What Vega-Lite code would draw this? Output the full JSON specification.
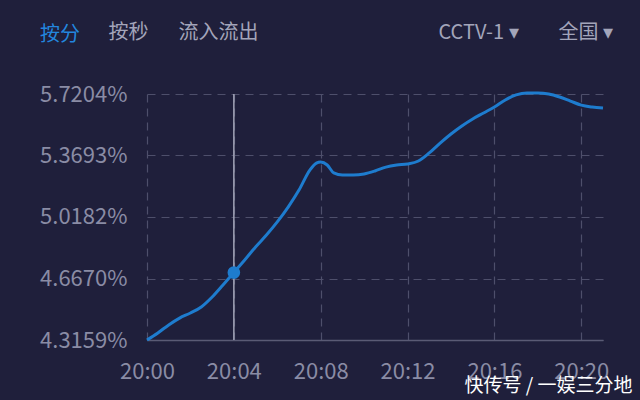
{
  "$schema": "https://vega.github.io/schema/vega-lite/v6.json",
  "width": 456,
  "height": 246,
  "autosize": {"type": "none"},
  "padding": {"left": 147, "top": 94, "right": 37, "bottom": 60},
  "background": "#1f1f3b",
  "config": {
    "view": {"stroke": null},
    "font": "Noto Sans CJK SC",
    "axis": {
      "labelFont": "Noto Sans CJK SC",
      "labelFontSize": 22,
      "labelColor": "#8a8ca5",
      "titleFont": "Noto Sans CJK SC",
      "titleFontSize": 20,
      "titleFontWeight": "normal",
      "titleColor": "#a3a5ba",
      "gridColor": "#4e4f6b",
      "gridDash": [8, 6],
      "gridWidth": 1.2,
      "ticks": false
    }
  },
  "title": {
    "text": "按分",
    "anchor": "start",
    "frame": "group",
    "dx": -107,
    "dy": 43,
    "offset": 0,
    "baseline": "bottom",
    "color": "#2386de",
    "fontSize": 20,
    "fontWeight": "normal",
    "font": "Noto Sans CJK SC"
  },
  "datasets": {
    "series": [
      {"t": "2024/01/01 20:00:00", "v": 4.3159},
      {"t": "2024/01/01 20:00:30", "v": 4.356},
      {"t": "2024/01/01 20:01:00", "v": 4.402},
      {"t": "2024/01/01 20:01:30", "v": 4.441},
      {"t": "2024/01/01 20:02:00", "v": 4.470},
      {"t": "2024/01/01 20:02:30", "v": 4.504},
      {"t": "2024/01/01 20:03:00", "v": 4.561},
      {"t": "2024/01/01 20:03:30", "v": 4.630},
      {"t": "2024/01/01 20:04:00", "v": 4.701},
      {"t": "2024/01/01 20:04:30", "v": 4.773},
      {"t": "2024/01/01 20:05:00", "v": 4.847},
      {"t": "2024/01/01 20:05:30", "v": 4.915},
      {"t": "2024/01/01 20:06:00", "v": 4.990},
      {"t": "2024/01/01 20:06:30", "v": 5.075},
      {"t": "2024/01/01 20:07:00", "v": 5.172},
      {"t": "2024/01/01 20:07:30", "v": 5.286},
      {"t": "2024/01/01 20:07:48", "v": 5.326},
      {"t": "2024/01/01 20:08:00", "v": 5.332},
      {"t": "2024/01/01 20:08:18", "v": 5.315},
      {"t": "2024/01/01 20:08:36", "v": 5.270},
      {"t": "2024/01/01 20:09:00", "v": 5.258},
      {"t": "2024/01/01 20:09:30", "v": 5.258},
      {"t": "2024/01/01 20:10:00", "v": 5.264},
      {"t": "2024/01/01 20:10:30", "v": 5.281},
      {"t": "2024/01/01 20:11:00", "v": 5.303},
      {"t": "2024/01/01 20:11:30", "v": 5.315},
      {"t": "2024/01/01 20:12:00", "v": 5.321},
      {"t": "2024/01/01 20:12:30", "v": 5.338},
      {"t": "2024/01/01 20:13:00", "v": 5.384},
      {"t": "2024/01/01 20:13:30", "v": 5.440},
      {"t": "2024/01/01 20:14:00", "v": 5.492},
      {"t": "2024/01/01 20:14:30", "v": 5.538},
      {"t": "2024/01/01 20:15:00", "v": 5.578},
      {"t": "2024/01/01 20:15:30", "v": 5.612},
      {"t": "2024/01/01 20:16:00", "v": 5.646},
      {"t": "2024/01/01 20:16:30", "v": 5.686},
      {"t": "2024/01/01 20:17:00", "v": 5.715},
      {"t": "2024/01/01 20:17:30", "v": 5.726},
      {"t": "2024/01/01 20:18:00", "v": 5.726},
      {"t": "2024/01/01 20:18:30", "v": 5.720},
      {"t": "2024/01/01 20:19:00", "v": 5.703},
      {"t": "2024/01/01 20:19:30", "v": 5.680},
      {"t": "2024/01/01 20:20:00", "v": 5.657},
      {"t": "2024/01/01 20:20:30", "v": 5.646},
      {"t": "2024/01/01 20:21:00", "v": 5.640}
    ],
    "hover": [{"t": "2024/01/01 20:04:00", "v": 4.701}]
  },
  "layer": [
    {
      "data": {"name": "series"},
      "mark": {"type": "line", "interpolate": "monotone", "strokeWidth": 3, "color": "#1e7cce"},
      "encoding": {
        "x": {
          "field": "t",
          "type": "temporal",
          "scale": {
            "domain": [
              {"year": 2024, "month": 1, "date": 1, "hours": 20, "minutes": 0},
              {"year": 2024, "month": 1, "date": 1, "hours": 20, "minutes": 21}
            ],
            "nice": false
          },
          "axis": {
            "orient": "bottom",
            "format": "%H:%M",
            "values": [
              {"year": 2024, "month": 1, "date": 1, "hours": 20, "minutes": 0},
              {"year": 2024, "month": 1, "date": 1, "hours": 20, "minutes": 4},
              {"year": 2024, "month": 1, "date": 1, "hours": 20, "minutes": 8},
              {"year": 2024, "month": 1, "date": 1, "hours": 20, "minutes": 12},
              {"year": 2024, "month": 1, "date": 1, "hours": 20, "minutes": 16},
              {"year": 2024, "month": 1, "date": 1, "hours": 20, "minutes": 20}
            ],
            "labelPadding": 21,
            "labelFlush": false,
            "domainColor": "#5a5b75",
            "domainWidth": 1.5,
            "title": "快传号 / 一娱三分地",
            "titleColor": "#ffffff",
            "titleFontSize": 19,
            "titleAlign": "right",
            "titleBaseline": "middle",
            "titleX": 485,
            "titleY": 45
          }
        },
        "y": {
          "field": "v",
          "type": "quantitative",
          "scale": {"domain": [4.3159, 5.7204], "nice": false, "zero": false},
          "axis": {
            "orient": "left",
            "values": [4.3159, 4.667, 5.0182, 5.3693, 5.7204],
            "labelExpr": "format(datum.value, '.4f') + '%'",
            "labelPadding": 20,
            "domain": false,
            "title": "按秒\u3000\u2002流入流出\u3000\u3000\u3000\u3000\u3000\u3000\u3000\u3000\u3000CCTV-1 ▾\u3000\u2002\u2002全国 ▾",
            "titleAngle": 0,
            "titleAlign": "left",
            "titleBaseline": "middle",
            "titleX": -39,
            "titleY": -62
          }
        }
      }
    },
    {
      "data": {"name": "hover"},
      "mark": {"type": "rule", "color": "#a3a5b8", "strokeWidth": 1.5},
      "encoding": {
        "x": {"field": "t", "type": "temporal"}
      }
    },
    {
      "data": {"name": "hover"},
      "mark": {"type": "point", "filled": true, "size": 160, "color": "#1e7cce", "opacity": 1},
      "encoding": {
        "x": {"field": "t", "type": "temporal"},
        "y": {"field": "v", "type": "quantitative"}
      }
    }
  ]
}
